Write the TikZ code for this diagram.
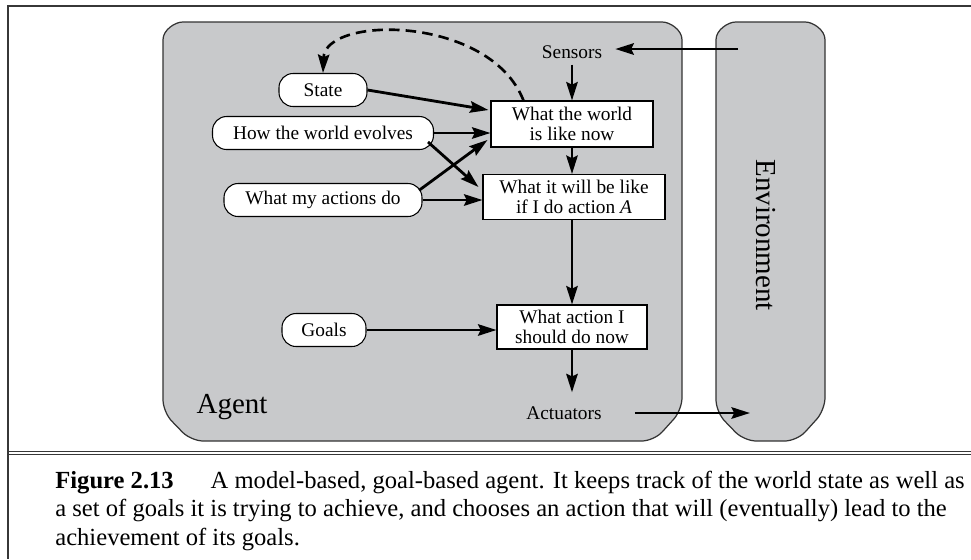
\documentclass[tikz,border=0pt]{standalone}
\usepackage{fontspec}
\setmainfont{Liberation Serif}
\usetikzlibrary{calc,arrows.meta}
\definecolor{agentgray}{RGB}{200,201,203}
\definecolor{framegray}{RGB}{55,55,55}

\begin{document}
\begin{tikzpicture}[x=0.02cm, y=-0.02cm,
	flow/.style={line width=1.6pt, -{Stealth[length=10.5pt, width=6.5pt, inset=1.5pt]}},
	pill/.style={draw, fill=white, line width=0.6pt, rounded corners=8pt, minimum height=0.66cm, inner sep=0pt, font=\fontsize{11}{12}\selectfont},
	stepbox/.style={draw, fill=white, line width=0.6pt, inner sep=0pt, align=center, font=\fontsize{11}{11.5}\selectfont},
	area/.style={draw=black!80, fill=agentgray, line width=0.7pt, rounded corners=7pt},
	plain/.style={font=\fontsize{11}{12}\selectfont},
	caption/.style={inner sep=0pt, anchor=base west, font=\fontsize{14}{16}\selectfont}]

	\useasboundingbox (0,0) rectangle (971,559);
	\draw[framegray, line width=1pt] (7,6) -- (971,6);
	\draw[framegray, line width=1pt] (8,6) -- (8,559);
	\draw[framegray, line width=0.6pt] (8,451.5) -- (971,451.5);
	\draw[framegray, line width=0.6pt] (8,454.5) -- (971,454.5);

	\draw[area] (163,52) .. controls (163,30) and (175,22) .. (195,22) -- (650,22) .. controls (670,22) and (682,30) .. (682,52) -- (682,410) -- (654,441) -- (191,441) -- (163,412) -- cycle;
	\draw[area] (716,52) .. controls (716,30) and (728,22) .. (748,22) -- (793,22) .. controls (813,22) and (825,30) .. (825,52) -- (825,410) -- (797,441) -- (744,441) -- (716,412) -- cycle;

	\node[pill, minimum width=1.76cm] (State) at (323,90) {State};
	\node[pill, minimum width=4.42cm] (Evolve) at (323,133) {How the world evolves};
	\node[pill, minimum width=3.96cm] (Effect) at (323,200) {What my actions do};
	\node[pill, minimum width=1.68cm] (Goals) at (324,330) {Goals};

	\node[stepbox, minimum width=3.24cm, minimum height=0.92cm] (Now) at (572,124) {What the world\\is like now};
	\node[stepbox, minimum width=3.64cm, minimum height=0.9cm] (Future) at (574,197) {What it will be like\\if I do action \textit{A}};
	\node[stepbox, minimum width=3cm, minimum height=0.88cm] (Action) at (572,327) {What action I\\should do now};

	\node[plain] (Sensors) at (572,52) {Sensors};
	\node[plain] (Actuators) at (564,413) {Actuators};
	\node[font=\fontsize{16.5}{18}\selectfont] (Agent) at (232,407) {Agent};
	\node[rotate=-90, font=\fontsize{16.5}{18}\selectfont] (Env) at (766,235) {Environment};
	\coordinate (envin) at (738,49);
	\coordinate (envout) at (750,411);

	\draw[flow, shorten >=4pt] (envin) -- (envin -| Sensors.east);
	\draw[flow] (Sensors.south) -- (Now.north);
	\draw[flow] (Now.south) -- (Now.south |- Future.north);
	\draw[flow] (Future.south -| Action.north) -- (Action.north);
	\draw[flow] (Action.south) -- ($(Actuators.north -| Action.south)+(0,-8)$);
	\draw[flow] ([xshift=0.54cm]Actuators.east) -- (Actuators.east -| envout);

	\draw[flow] (State.east) -- ($(Now.west)+(-2,-14)$);
	\draw[flow] (Evolve.east) -- (Evolve.east -| Now.west);
	\draw[flow] ($(Evolve.east)+(-6,9)$) -- ($(Future.west)+(-4,-10)$);
	\draw[flow] ($(Effect.east)+(-3,-10)$) -- ($(Now.west)+(-3,16)$);
	\draw[flow] (Effect.east) -- (Effect.east -| Future.west);
	\draw[flow] (Goals.east) -- (Goals.east -| Action.west);

	\draw[line width=1.5pt, dash pattern=on 6pt off 3.5pt, -{Stealth[length=10.5pt, width=6.5pt, inset=1.5pt]}] ($(Now.north west)+(33,0)$) .. controls (490,15) and (325,15) .. (State.north);

	\node[caption] (cap1) at (55,488) {\textbf{Figure 2.13}\hspace{21pt}A model-based, goal-based agent. It keeps track of the world state as well as};
	\node[caption] (cap2) at (55,516.5) {a set of goals it is trying to achieve, and chooses an action that will (eventually) lead to the};
	\node[caption] (cap3) at (55,545) {achievement of its goals.};

\end{tikzpicture}
\end{document}
